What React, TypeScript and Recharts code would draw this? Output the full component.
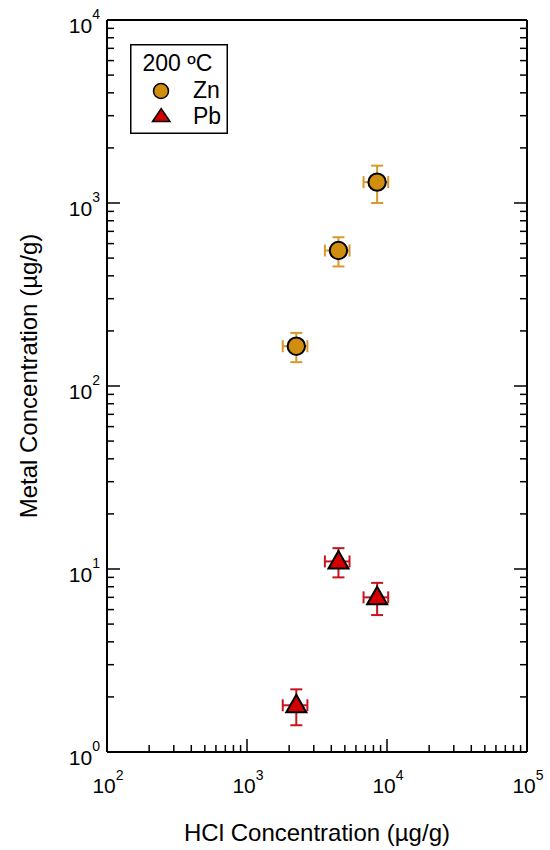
import { ScatterChart, Scatter, XAxis, YAxis, ErrorBar, Legend, Label } from "recharts";

// HCl concentration (µg/g) for the three runs, with ± error
const hclValues = [2250, 4500, 8500];
const hclErrors = [450, 900, 1700];

// metal concentration (µg/g) at 200 ºC
const znValues = [165, 550, 1300];
const znErrors = [30, 100, 300];
const pbValues = [1.8, 11, 7];
const pbErrors = [0.4, 2, 1.4];

// log axis decades (exponents) and minor multipliers
const xDecades = [2, 3, 4, 5];
const yDecades = [0, 1, 2, 3, 4];
const minorSteps = [2, 3, 4, 5, 6, 7, 8, 9];

const FONT = "'Liberation Sans', Arial, sans-serif";
const ZN_FILL = "#D18E0E";
const ZN_ERR = "#D9992A";
const PB_FILL = "#D40000";
const PB_ERR = "#C8141E";

const buildTicks = (decades: number[]) => {
  const out: number[] = [];
  decades.forEach((d, i) => {
    out.push(Math.pow(10, d));
    if (i < decades.length - 1) minorSteps.forEach((m) => out.push(m * Math.pow(10, d)));
  });
  return out;
};

const xTicks = buildTicks(xDecades);
const yTicks = buildTicks(yDecades);

const znData = hclValues.map((x, i) => ({ x, y: znValues[i], xErr: hclErrors[i], yErr: znErrors[i] }));
const pbData = hclValues.map((x, i) => ({ x, y: pbValues[i], xErr: hclErrors[i], yErr: pbErrors[i] }));

const isDecade = (v: number) => Math.abs(Math.log10(v) - Math.round(Math.log10(v))) < 1e-9;

function LogTick(props: any) {
  const { x, y, payload, side } = props;
  const v = payload.value;
  const major = isDecade(v);
  const len = major ? 13 : 7;
  const exp = Math.round(Math.log10(v));
  let line = null;
  let label = null;
  if (side === "bottom") {
    line = <line x1={x} y1={y} x2={x} y2={y - len} stroke="#000" strokeWidth={1.5} />;
    if (major)
      label = (
        <text x={x + 1} y={793} textAnchor="middle" fontSize={21} fontFamily={FONT} fill="#000">
          10<tspan dy={-13} fontSize={14}>{exp}</tspan>
        </text>
      );
  } else if (side === "top") {
    line = <line x1={x} y1={y} x2={x} y2={y + len} stroke="#000" strokeWidth={1.5} />;
  } else if (side === "left") {
    line = <line x1={x} y1={y} x2={x + len} y2={y} stroke="#000" strokeWidth={1.5} />;
    if (major)
      label = (
        <text x={x - 7} y={y + 13} textAnchor="end" fontSize={21} fontFamily={FONT} fill="#000">
          10<tspan dy={-14} fontSize={14}>{exp}</tspan>
        </text>
      );
  } else {
    line = <line x1={x} y1={y} x2={x - len} y2={y} stroke="#000" strokeWidth={1.5} />;
  }
  return (
    <g>
      {line}
      {label}
    </g>
  );
}

const ZnDot = (props: any) => (
  <circle cx={props.cx} cy={props.cy} r={8.7} fill={ZN_FILL} stroke="#000" strokeWidth={2} />
);

const PbDot = (props: any) => {
  const { cx, cy } = props;
  return (
    <path
      d={`M${cx - 10},${cy + 7} L${cx + 10},${cy + 7} L${cx},${cy - 10.5} Z`}
      fill={PB_FILL}
      stroke="#000"
      strokeWidth={2}
      strokeLinejoin="miter"
    />
  );
};

function LegendBox() {
  return (
    <svg width={98} height={90} style={{ display: "block" }}>
      <rect x={0.75} y={0.75} width={96.5} height={88.5} fill="#fff" stroke="#000" strokeWidth={1.5} />
      <text x={12.5} y={27} fontSize={23} fontFamily={FONT} fill="#000">200 ºC</text>
      <circle cx={31} cy={47} r={7.5} fill={ZN_FILL} stroke="#000" strokeWidth={1.5} />
      <text x={63} y={53.5} fontSize={23} fontFamily={FONT} fill="#000">Zn</text>
      <path d="M22.5,77.5 L40,77.5 L31.2,64.5 Z" fill={PB_FILL} stroke="#000" strokeWidth={1.5} />
      <text x={63} y={80} fontSize={23} fontFamily={FONT} fill="#000">Pb</text>
    </svg>
  );
}

export default function App() {
  return (
    <div style={{ position: "absolute", left: 0, top: 0, background: "#fff" }}>
      <ScatterChart width={550} height={850} margin={{ top: 0, right: 0, bottom: 0, left: 0 }}>
        <XAxis
          xAxisId="b"
          type="number"
          dataKey="x"
          scale="log"
          domain={[100, 100000]}
          allowDataOverflow
          ticks={xTicks}
          interval={0}
          height={98}
          tickSize={0}
          tickMargin={0}
          tickLine={false}
          axisLine={{ stroke: "#000", strokeWidth: 2 }}
          tick={(p: any) => <LogTick {...p} side="bottom" />}
        >
          <Label
            content={() => (
              <text x={317} y={841} textAnchor="middle" fontSize={24} fontFamily={FONT} fill="#000">
                HCl Concentration (µg/g)
              </text>
            )}
          />
        </XAxis>
        <XAxis
          xAxisId="t"
          orientation="top"
          type="number"
          scale="log"
          domain={[100, 100000]}
          allowDataOverflow
          ticks={xTicks}
          interval={0}
          height={20}
          tickSize={0}
          tickMargin={0}
          tickLine={false}
          axisLine={{ stroke: "#000", strokeWidth: 2 }}
          tick={(p: any) => <LogTick {...p} side="top" />}
        />
        <YAxis
          yAxisId="l"
          type="number"
          dataKey="y"
          scale="log"
          domain={[1, 10000]}
          allowDataOverflow
          ticks={yTicks}
          interval={0}
          width={107}
          tickSize={0}
          tickMargin={0}
          tickLine={false}
          axisLine={{ stroke: "#000", strokeWidth: 2 }}
          tick={(p: any) => <LogTick {...p} side="left" />}
        >
          <Label
            content={() => (
              <text
                x={36.5}
                y={376}
                textAnchor="middle"
                fontSize={24}
                fontFamily={FONT}
                fill="#000"
                transform="rotate(-90, 36.5, 376)"
              >
                Metal Concentration (µg/g)
              </text>
            )}
          />
        </YAxis>
        <YAxis
          yAxisId="r"
          orientation="right"
          type="number"
          scale="log"
          domain={[1, 10000]}
          allowDataOverflow
          ticks={yTicks}
          interval={0}
          width={23}
          tickSize={0}
          tickMargin={0}
          tickLine={false}
          axisLine={{ stroke: "#000", strokeWidth: 2 }}
          tick={(p: any) => <LogTick {...p} side="right" />}
        />
        <Legend
          layout="vertical"
          align="center"
          verticalAlign="middle"
          wrapperStyle={{ left: 130, top: 44, width: 98, height: 90 }}
          content={() => <LegendBox />}
        />
        <Scatter
          name="Zn"
          data={znData}
          xAxisId="b"
          yAxisId="l"
          shape={ZnDot}
          isAnimationActive={false}
        >
          <ErrorBar dataKey="xErr" direction="x" width={6} stroke={ZN_ERR} strokeWidth={2} />
          <ErrorBar dataKey="yErr" direction="y" width={6} stroke={ZN_ERR} strokeWidth={2} />
        </Scatter>
        <Scatter
          name="Pb"
          data={pbData}
          xAxisId="b"
          yAxisId="l"
          shape={PbDot}
          isAnimationActive={false}
        >
          <ErrorBar dataKey="xErr" direction="x" width={6} stroke={PB_ERR} strokeWidth={2} />
          <ErrorBar dataKey="yErr" direction="y" width={6} stroke={PB_ERR} strokeWidth={2} />
        </Scatter>
      </ScatterChart>
    </div>
  );
}
